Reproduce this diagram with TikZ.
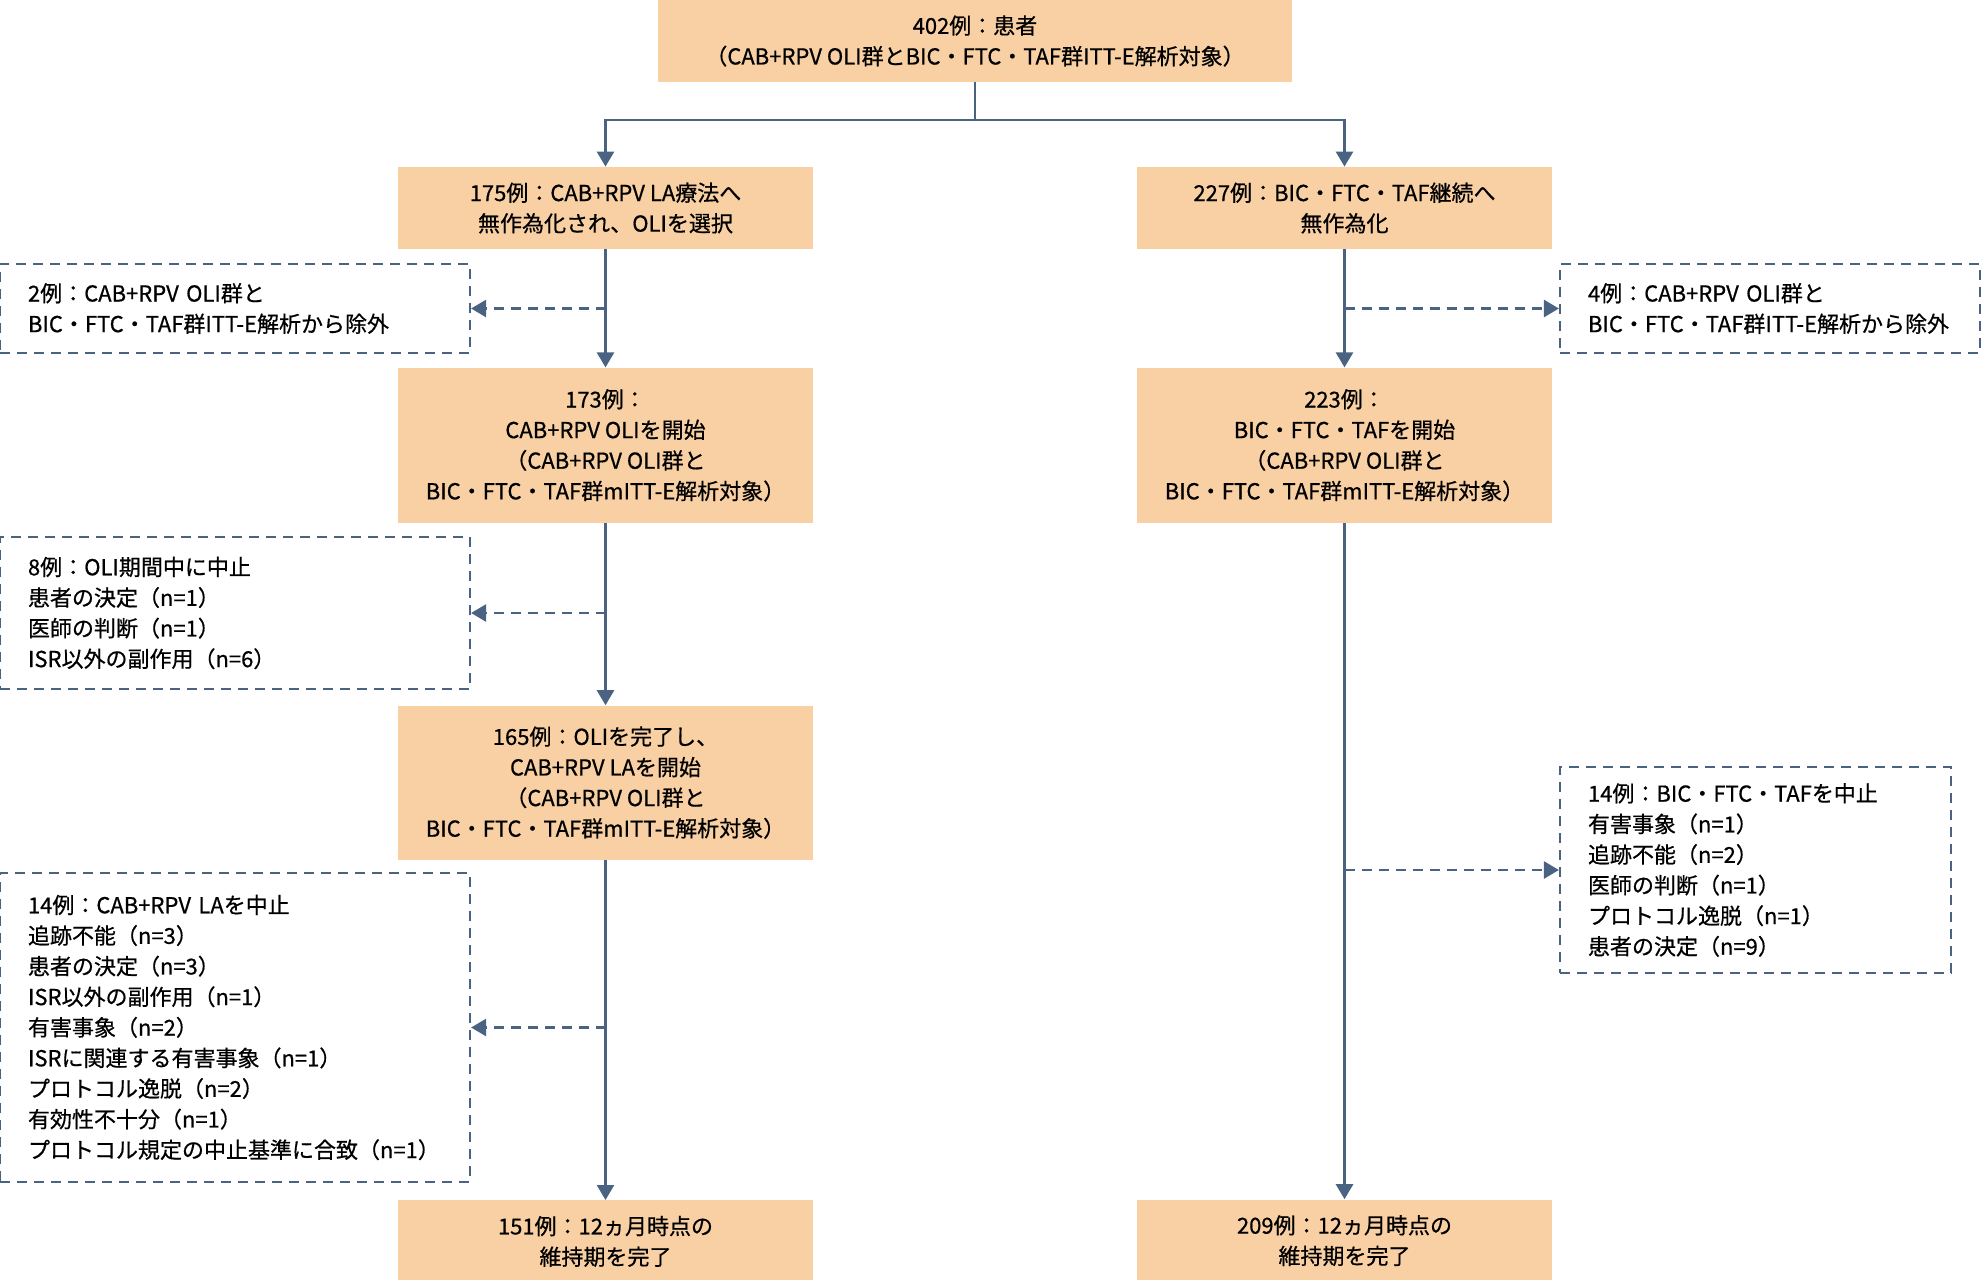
\documentclass[tikz,border=0pt]{standalone}
\usepackage{fontspec}
\setmainfont{Noto Sans CJK JP}[FakeBold=0.6]
\usepackage{xcolor}
\usetikzlibrary{arrows.meta,positioning}
\definecolor{armfill}{HTML}{F8D0A4}
\definecolor{flowline}{HTML}{4A6382}

\begin{document}
\begin{tikzpicture}[
  x=0.5pt, y=-0.5pt,
  every node/.style={font=\fontsize{11pt}{15.3pt}\selectfont},
  arm/.style={fill=armfill, align=center, inner sep=2pt, minimum width=207.5pt, minimum height=41pt},
  drop/.style={draw=flowline, line width=1.1pt, dash pattern=on 5pt off 3.5pt, align=left, inner xsep=14pt, inner ysep=2pt},
  arrow/.style={draw=flowline, line width=1.3pt, -{Triangle[length=7.5pt, width=8.5pt]}},
  dasharrow/.style={arrow, dash pattern=on 5pt off 3.5pt}
]
\useasboundingbox (0,0) rectangle (1982,1280);

% main arms
\node[arm, minimum width=317pt] (top) at (975,41) {402例：患者\\（CAB+RPV OLI群とBIC・FTC・TAF群ITT-E解析対象）};
\node[arm] (lrand) at (605.5,208) {175例：CAB+RPV LA療法へ\\無作為化され、OLIを選択};
\node[arm] (rrand) at (1344.5,208) {227例：BIC・FTC・TAF継続へ\\無作為化};
\node[arm, minimum height=77.5pt, below=59pt of lrand] (lstart) {173例：\\CAB+RPV OLIを開始\\（CAB+RPV OLI群と\\BIC・FTC・TAF群mITT-E解析対象）};
\node[arm, minimum height=77.5pt, below=59pt of rrand] (rstart) {223例：\\BIC・FTC・TAFを開始\\（CAB+RPV OLI群と\\BIC・FTC・TAF群mITT-E解析対象）};
\node[arm, minimum height=77pt, below=91pt of lstart] (lla) {165例：OLIを完了し、\\CAB+RPV LAを開始\\（CAB+RPV OLI群と\\BIC・FTC・TAF群mITT-E解析対象）};
\node[arm, below=170pt of lla] (lend) {151例：12ヵ月時点の\\維持期を完了};
\node[arm, below=338pt of rstart] (rend) {209例：12ヵ月時点の\\維持期を完了};

% side boxes
\node[drop, text width=207pt, minimum height=44.5pt] (lexcl) at (235,308.5) {2例：CAB+RPV OLI群と\\BIC・FTC・TAF群ITT-E解析から除外};
\node[drop, text width=182pt, minimum height=44.5pt] (rexcl) at (1770,308.5) {4例：CAB+RPV OLI群と\\BIC・FTC・TAF群ITT-E解析から除外};
\node[drop, text width=207pt, minimum height=76pt] (loli) at (235,613) {8例：OLI期間中に中止\\患者の決定（n=1）\\医師の判断（n=1）\\ISR以外の副作用（n=6）};
\node[drop, text width=207pt, minimum height=154.5pt] (lstop) at (235,1027.5) {14例：CAB+RPV LAを中止\\追跡不能（n=3）\\患者の決定（n=3）\\ISR以外の副作用（n=1）\\有害事象（n=2）\\ISRに関連する有害事象（n=1）\\プロトコル逸脱（n=2）\\有効性不十分（n=1）\\プロトコル規定の中止基準に合致（n=1）};
\node[drop, text width=167.5pt, minimum height=103pt] (rstop) at (1755.5,870) {14例：BIC・FTC・TAFを中止\\有害事象（n=1）\\追跡不能（n=2）\\医師の判断（n=1）\\プロトコル逸脱（n=1）\\患者の決定（n=9）};

% connectors
\coordinate (split) at (975,120);
\draw[arrow] (top) -- (split) -| (lrand.north);
\draw[arrow] (split) -| (rrand.north);
\draw[arrow] (lrand) -- (lstart);
\draw[arrow] (lstart) -- (lla);
\draw[arrow] (lla) -- (lend);
\draw[arrow] (rrand) -- (rstart);
\draw[arrow] (rstart) -- (rend);
\draw[dasharrow] (lrand.south |- lexcl.east) -- (lexcl.east);
\draw[dasharrow] (lstart.south |- loli.east) -- (loli.east);
\draw[dasharrow] (lla.south |- lstop.east) -- (lstop.east);
\draw[dasharrow] (rrand.south |- rexcl.west) -- (rexcl.west);
\draw[dasharrow] (rstart.south |- rstop.west) -- (rstop.west);
\end{tikzpicture}
\end{document}
